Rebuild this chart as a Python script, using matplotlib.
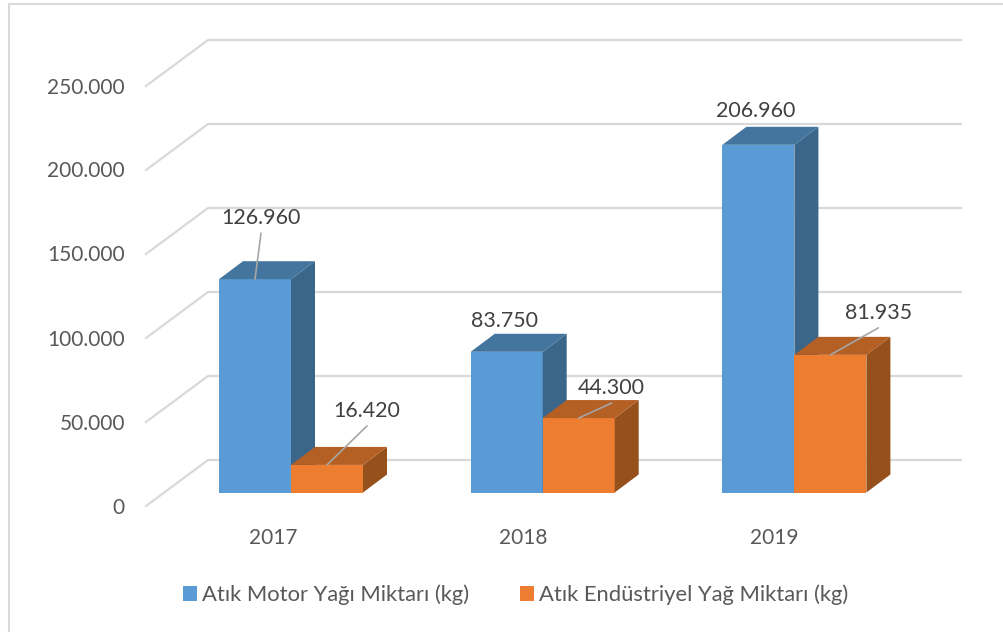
import matplotlib
matplotlib.use('Agg')
import matplotlib.pyplot as plt
from matplotlib.patches import Polygon, Rectangle

plt.rcParams['font.family'] = ['Lato', 'DejaVu Sans']

years = ['2017', '2018', '2019']
motor_oil = [126960, 83750, 206960]
industrial_oil = [16420, 44300, 81935]
series_names = ['Atık Motor Yağı Miktarı (kg)', 'Atık Endüstriyel Yağ Miktarı (kg)']
y_ticks = [0, 50000, 100000, 150000, 200000, 250000]

# pixel layout of the picture
W, H = 1004, 632
PX_PER_CAT = 251.7
PX_PER_VAL = 84.0 / 50000
X0_PX = 291.0   # centre of first category
Y0_PX = 492.5   # front bottom of the bars


def dx(px):
    return px / PX_PER_CAT


def dy(px):
    return px / PX_PER_VAL


BAR_W = dx(72)
DEPTH_X, DEPTH_Y = dx(24), dy(18)

# text offsets from the top centre of each bar, (dx, dy, has leader)
motor_labels = [(6, 62, True), (-2, 32, False), (-3, 35, False)]
industrial_labels = [(40, 55, True), (33, 31, True), (48, 43, True)]

colors = {
    'motor': ('#5B9BD5', '#3A6689', '#44759F'),
    'industrial': ('#ED7D31', '#96501C', '#B45F24'),
}


def fmt(v):
    return '{:,}'.format(v).replace(',', '.')


fig = plt.figure(figsize=(W / 100, H / 100), dpi=100)
ax = fig.add_axes([0, 0, 1, 1])
ax.set_xlim(-X0_PX / PX_PER_CAT, (W - X0_PX) / PX_PER_CAT)
ax.set_ylim(-(H - Y0_PX) / PX_PER_VAL, Y0_PX / PX_PER_VAL)
ax.axis('off')

# chart border, only left and top are inside the picture
grid_color = '#D9D9D9'
ax.plot([9 / W, 9 / W, 1], [0, 1 - 4 / H, 1 - 4 / H], transform=ax.transAxes,
        color=grid_color, lw=1.5, solid_joinstyle='miter')

# walls: gridline on the back wall plus the diagonal on the floor side
wall_x0 = dx(208 - X0_PX)
wall_x1 = dx(961 - X0_PX)
front_x = dx(146 - X0_PX)
for t in y_ticks:
    back_y = t + dy(32.5)
    front_y = t - dy(13.5)
    ax.plot([front_x, wall_x0, wall_x1], [front_y, back_y, back_y],
            color=grid_color, lw=1.6, solid_joinstyle='miter', zorder=1)
    ax.text(front_x - dx(21), front_y - dy(1.5), fmt(t), ha='right', va='center',
            fontsize=15, color='#595959')


def draw_bar(x, v, cols, z):
    front, side, top = cols
    left, right = x - BAR_W / 2, x + BAR_W / 2
    ax.bar(x, v, width=BAR_W, color=front, edgecolor='none', zorder=z)
    ax.add_patch(Polygon([(right, 0), (right + DEPTH_X, DEPTH_Y),
                          (right + DEPTH_X, v + DEPTH_Y), (right, v)],
                         fc=side, ec='none', zorder=z))
    ax.add_patch(Polygon([(left, v), (left + DEPTH_X, v + DEPTH_Y),
                          (right + DEPTH_X, v + DEPTH_Y), (right, v)],
                         fc=top, ec='none', zorder=z))


def draw_label(x, v, offset):
    ox, oy, leader = offset
    if leader:
        ax.annotate('', xy=(x, v), xytext=(ox, oy - 16), textcoords='offset pixels',
                    arrowprops=dict(arrowstyle='-', color='#A6A6A6', lw=1.2,
                                    shrinkA=0, shrinkB=0), zorder=6)
    ax.annotate(fmt(v), xy=(x, v), xytext=(ox, oy - 1), textcoords='offset pixels',
                ha='center', va='center', fontsize=15.4, color='#404040', zorder=7)


for i, year in enumerate(years):
    draw_bar(i - BAR_W / 2, motor_oil[i], colors['motor'], 3)
    draw_bar(i + BAR_W / 2, industrial_oil[i], colors['industrial'], 4)
    draw_label(i - BAR_W / 2, motor_oil[i], motor_labels[i])
    draw_label(i + BAR_W / 2, industrial_oil[i], industrial_labels[i])
    # year labels sit on a slightly tighter step than the bars
    ax.text(dx(i * 250.5 - 18), -dy(46), year, ha='center', va='center',
            fontsize=15, color='#595959')

handles = [Rectangle((0, 0), 1, 1, fc=colors['motor'][0]),
           Rectangle((0, 0), 1, 1, fc=colors['industrial'][0])]
ax.legend(handles, series_names, ncol=2, loc='center', frameon=False,
          bbox_to_anchor=(515.5 / W, 1 - 595 / H), fontsize=15.8, labelcolor='#595959',
          handlelength=0.64, handleheight=0.64, handletextpad=0.25, columnspacing=2.3)

plt.savefig('out.png', dpi=100)
